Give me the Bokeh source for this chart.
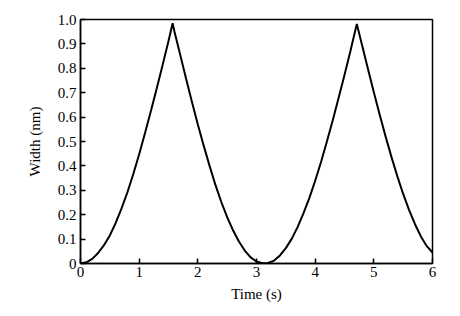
from bokeh.plotting import figure
from bokeh.models import FixedTicker, Range1d
from bokeh.embed import file_html
from bokeh.resources import INLINE

# Data
time_s = [0.0, 0.1, 0.2, 0.3, 0.4, 0.5, 0.6, 0.7, 0.8, 0.9,
          1.0, 1.1, 1.2, 1.3, 1.4, 1.5, 1.57, 1.6, 1.7, 1.8, 1.9,
          2.0, 2.1, 2.2, 2.3, 2.4, 2.5, 2.6, 2.7, 2.8, 2.9,
          3.0, 3.1, 3.2, 3.3, 3.4, 3.5, 3.6, 3.7, 3.8, 3.9,
          4.0, 4.1, 4.2, 4.3, 4.4, 4.5, 4.6, 4.71, 4.8, 4.9,
          5.0, 5.1, 5.2, 5.3, 5.4, 5.5, 5.6, 5.7, 5.8, 5.9, 6.0]
width_nm = [0.0, 0.005, 0.019, 0.043, 0.075, 0.115, 0.166, 0.226, 0.292, 0.367,
            0.448, 0.535, 0.625, 0.718, 0.814, 0.912, 0.985, 0.952, 0.855, 0.757, 0.662,
            0.570, 0.483, 0.400, 0.322, 0.252, 0.190, 0.136, 0.090, 0.053, 0.025,
            0.008, 0.001, 0.002, 0.012, 0.033, 0.063, 0.101, 0.149, 0.205, 0.268,
            0.339, 0.416, 0.500, 0.587, 0.679, 0.773, 0.870, 0.982, 0.894, 0.797,
            0.702, 0.610, 0.521, 0.437, 0.358, 0.285, 0.220, 0.162, 0.112, 0.072, 0.045]

x_ticks = [0, 1, 2, 3, 4, 5, 6]
y_ticks = [0, 0.1, 0.2, 0.3, 0.4, 0.5, 0.6, 0.7, 0.8, 0.9, 1.0]
y_tick_labels = ["0", "0.1", "0.2", "0.3", "0.4", "0.5", "0.6", "0.7", "0.8", "0.9", "1.0"]

FONT = "Liberation Serif"

p = figure(width=460, height=316, output_backend="svg", toolbar_location=None,
           x_range=Range1d(0, 6), y_range=Range1d(0, 1.0),
           min_border_left=80, min_border_right=28, min_border_top=19, min_border_bottom=53)

p.line(time_s, width_nm, line_color="black", line_width=2)

p.grid.visible = False
p.outline_line_color = "black"
p.outline_line_width = 1.5
p.background_fill_color = "white"
p.border_fill_color = "white"

for ax, ticks in ((p.xaxis[0], x_ticks), (p.yaxis[0], y_ticks)):
    ax.ticker = FixedTicker(ticks=ticks)
    ax.minor_tick_line_color = None
    ax.major_tick_in = 5
    ax.major_tick_out = 0
    ax.major_tick_line_color = "black"
    ax.major_tick_line_width = 1.5
    ax.axis_line_color = "black"
    ax.axis_line_width = 1.5
    ax.major_label_text_font = FONT
    ax.major_label_text_font_size = "15px"
    ax.major_label_text_color = "black"
    ax.axis_label_text_font = FONT
    ax.axis_label_text_font_size = "15px"
    ax.axis_label_text_font_style = "normal"
    ax.axis_label_text_color = "black"

p.yaxis[0].major_label_overrides = {t: s for t, s in zip(y_ticks, y_tick_labels)}
p.xaxis[0].major_label_overrides = {t: str(t) for t in x_ticks}
p.xaxis.axis_label = "Time (s)"
p.yaxis.axis_label = "Width (nm)"
p.xaxis.major_label_standoff = 3
p.yaxis.major_label_standoff = 4
p.xaxis.axis_label_standoff = 6
p.yaxis.axis_label_standoff = 12

open("out.html", "w").write(file_html(p, INLINE))
